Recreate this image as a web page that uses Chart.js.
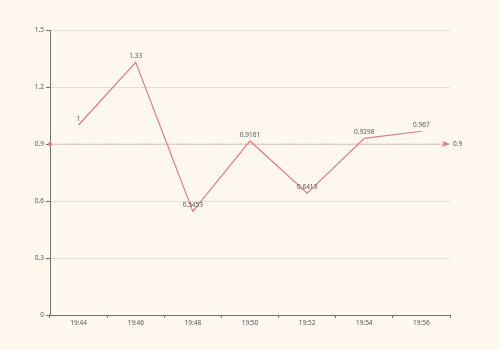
<!DOCTYPE html>
<html>
<head>
<meta charset="utf-8">
<script src="https://cdn.jsdelivr.net/npm/chart.js@4/dist/chart.umd.min.js"></script>
<style>
  html, body { margin: 0; padding: 0; background: #fef8ef; }
  #wrap { width: 500px; height: 350px; }
</style>
</head>
<body>
<div id="wrap"><canvas id="chart" width="500" height="350"></canvas></div>
<script>
// time labels and readings
const times = ["19:44", "19:46", "19:48", "19:50", "19:52", "19:54", "19:56"];
const values = [1, 1.33, 0.5453, 0.9161, 0.6413, 0.9298, 0.967];
const pointLabels = ["1", "1.33", "0.5453", "0.9161", "0.6413", "0.9298", "0.967"];
const threshold = 0.9;
const yTicks = [0, 0.3, 0.6, 0.9, 1.2, 1.5];

const lineColor = '#dd7b84';
const axisColor = '#6e7079';
const textColor = '#555';
const fontFamily = "'Noto Sans', 'Liberation Sans', sans-serif";

// value text above each point
const valueLabels = {
  id: 'valueLabels',
  afterDatasetsDraw(chart) {
    const ctx = chart.ctx;
    const meta = chart.getDatasetMeta(0);
    ctx.save();
    ctx.font = '6.5px ' + fontFamily;
    ctx.fillStyle = textColor;
    ctx.textAlign = 'center';
    ctx.textBaseline = 'bottom';
    meta.data.forEach((pt, i) => {
      ctx.fillText(pointLabels[i], pt.x, pt.y - 3);
    });
    ctx.restore();
  }
};

// dashed reference line with start dot, end arrow and label
const thresholdLine = {
  id: 'thresholdLine',
  afterDatasetsDraw(chart) {
    const ctx = chart.ctx;
    const area = chart.chartArea;
    const y = chart.scales.y.getPixelForValue(threshold);
    ctx.save();
    ctx.strokeStyle = 'rgba(221,123,132,0.75)';
    ctx.fillStyle = lineColor;
    ctx.lineWidth = 0.6;
    ctx.setLineDash([3, 1.5]);
    ctx.beginPath();
    ctx.moveTo(area.left, y);
    ctx.lineTo(area.right - 6, y);
    ctx.stroke();
    ctx.setLineDash([]);
    ctx.beginPath();
    ctx.arc(area.left, y, 2, 0, Math.PI * 2);
    ctx.fill();
    ctx.beginPath();
    ctx.moveTo(area.right, y);
    ctx.lineTo(area.right - 8, y - 3);
    ctx.lineTo(area.right - 6, y);
    ctx.lineTo(area.right - 8, y + 3);
    ctx.closePath();
    ctx.fill();
    ctx.font = '6.5px ' + fontFamily;
    ctx.fillStyle = textColor;
    ctx.textAlign = 'left';
    ctx.textBaseline = 'middle';
    ctx.fillText(String(threshold), area.right + 3, y);
    ctx.restore();
  }
};

new Chart(document.getElementById('chart'), {
  type: 'line',
  data: {
    labels: times,
    datasets: [{
      data: values,
      borderColor: lineColor,
      borderWidth: 1.2,
      pointRadius: 0,
      tension: 0,
      fill: false
    }]
  },
  options: {
    responsive: false,
    animation: false,
    layout: { padding: { top: 30, right: 50, left: 0, bottom: 0 } },
    plugins: { legend: { display: false }, tooltip: { enabled: false } },
    scales: {
      x: {
        offset: true,
        grid: {
          offset: true,
          drawOnChartArea: false,
          tickColor: axisColor,
          tickLength: 3
        },
        border: { color: axisColor, width: 1 },
        ticks: {
          color: textColor,
          font: { size: 6.5, family: fontFamily },
          padding: 1,
          maxRotation: 0
        },
        afterFit(scale) { scale.height = 35; }
      },
      y: {
        min: 0,
        max: 1.5,
        afterBuildTicks(scale) { scale.ticks = yTicks.map(v => ({ value: v })); },
        grid: {
          color: '#e3ded4',
          tickColor: axisColor,
          tickLength: 4
        },
        border: { color: axisColor, width: 1 },
        ticks: {
          color: textColor,
          font: { size: 6.5, family: fontFamily },
          padding: 2,
          callback: v => String(v)
        },
        afterFit(scale) { scale.width = 50; }
      }
    }
  },
  plugins: [valueLabels, thresholdLine]
});
</script>
</body>
</html>
